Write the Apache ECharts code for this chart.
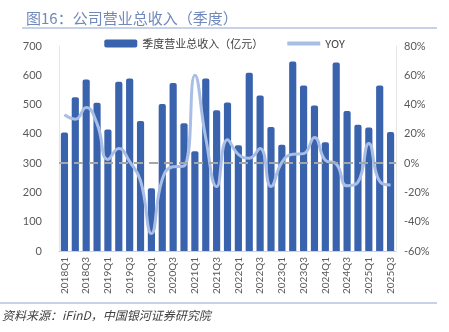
<!DOCTYPE html>
<html>
<head>
<meta charset="utf-8">
<script src="https://cdn.jsdelivr.net/npm/echarts@6/dist/echarts.min.js"></script>
<style>
  html, body { margin: 0; padding: 0; background: #fff; }
  #chart { width: 449px; height: 332px; }
</style>
</head>
<body>
<div id="chart"></div>
<script>
// Quarterly total operating revenue (100 million CNY) and year-over-year growth (%)
const quarters = [
  '2018Q1','2018Q2','2018Q3','2018Q4',
  '2019Q1','2019Q2','2019Q3','2019Q4',
  '2020Q1','2020Q2','2020Q3','2020Q4',
  '2021Q1','2021Q2','2021Q3','2021Q4',
  '2022Q1','2022Q2','2022Q3','2022Q4',
  '2023Q1','2023Q2','2023Q3','2023Q4',
  '2024Q1','2024Q2','2024Q3','2024Q4',
  '2025Q1','2025Q2','2025Q3'
];
const revenue = [
  405, 525, 586, 506,
  415, 578, 589, 444,
  214, 502, 574, 436,
  341, 589, 481, 507,
  361, 609, 531, 423,
  363, 647, 565, 497,
  371, 644, 478, 431,
  422, 565, 406
];
const yoy = [
  33, 30, 38, 27,
  2.5, 10, 1, -12,
  -48, -11, -2.5, -2,
  60, 17, -16, 16,
  6, 3.4, 10, -16,
  0.5, 6, 6.5, 17.5,
  2, -0.5, -15.5, -13,
  13.5, -12.5, -15
];
const leftTicks = { min: 0, max: 700, step: 100 };
const rightTicks = { min: -60, max: 80, step: 20 };

const chart = echarts.init(document.getElementById('chart'), null, { renderer: 'canvas' });
const axisText = { color: '#595959', fontSize: 11, fontFamily: 'Lato, "Noto Sans", sans-serif' };

chart.setOption({
  backgroundColor: '#ffffff',
  animation: false,
  title: {
    text: '图16：公司营业总收入（季度）',
    left: 21, top: 6,
    textStyle: { color: '#7088bb', fontSize: 15, fontWeight: 'normal', fontFamily: '"Noto Sans CJK SC", sans-serif' }
  },
  graphic: [
    { type: 'line', shape: { x1: 22, y1: 28, x2: 437, y2: 28 }, style: { stroke: '#8fa3cf', lineWidth: 1 } },
    { type: 'line', shape: { x1: 0, y1: 303, x2: 437, y2: 303 }, style: { stroke: '#8fa3cf', lineWidth: 1 } },
    {
      type: 'text', left: 2, top: 309,
      style: {
        text: '资料来源：iFinD，中国银河证券研究院',
        fill: '#404040', fontSize: 12, fontStyle: 'italic',
        fontFamily: '"Noto Sans CJK SC", sans-serif'
      }
    }
  ],
  legend: {
    top: 33, left: 'center',
    itemGap: 22,
    itemWidth: 33, itemHeight: 8,
    textStyle: { color: '#404040', fontSize: 11, fontFamily: '"Noto Sans CJK SC", sans-serif' },
    data: [
      { name: '季度营业总收入（亿元）', icon: 'roundRect' },
      { name: 'YOY', itemStyle: { opacity: 0 }, lineStyle: { width: 4, color: '#a9bee6' } }
    ]
  },
  grid: { left: 59, right: 53, top: 46, bottom: 81 },
  xAxis: {
    type: 'category',
    data: quarters,
    boundaryGap: true,
    axisLine: { lineStyle: { color: '#d0d0d0', width: 1 } },
    axisTick: { show: false },
    axisLabel: { ...axisText, fontSize: 10, rotate: 90, interval: 1, margin: 6 }
  },
  yAxis: [
    {
      type: 'value', min: leftTicks.min, max: leftTicks.max, interval: leftTicks.step,
      axisLine: { show: true, lineStyle: { color: '#e6e6e6' } },
      axisTick: { show: false },
      splitLine: { show: false },
      axisLabel: { ...axisText, margin: 17 }
    },
    {
      type: 'value', min: rightTicks.min, max: rightTicks.max, interval: rightTicks.step,
      axisLine: { show: true, lineStyle: { color: '#e6e6e6' } },
      axisTick: { show: false },
      splitLine: { show: false },
      axisLabel: { ...axisText, margin: 8, formatter: v => v + '%' }
    }
  ],
  series: [
    {
      name: '季度营业总收入（亿元）',
      type: 'bar',
      data: revenue,
      barCategoryGap: '34%',
      itemStyle: { color: '#3a63ae', borderRadius: [2, 2, 0, 0] }
    },
    {
      name: 'YOY',
      type: 'line',
      yAxisIndex: 1,
      data: yoy,
      smooth: 0.5,
      showSymbol: false,
      symbol: 'none',
      lineStyle: { color: '#a9bee6', width: 3 },
      itemStyle: { color: '#a9bee6' },
      markLine: {
        silent: true,
        symbol: 'none',
        label: { show: false },
        lineStyle: { color: '#a6a6a6', width: 2, type: [9, 6] },
        data: [{ yAxis: 0 }]
      }
    }
  ]
});
</script>
</body>
</html>
